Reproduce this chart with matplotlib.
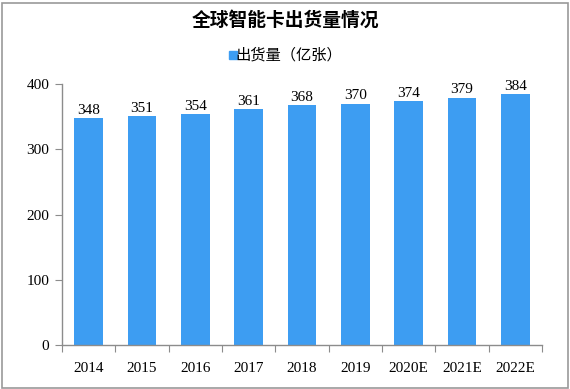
import matplotlib
matplotlib.use('Agg')
from matplotlib import pyplot as plt
from matplotlib.patches import Rectangle
import numpy as np

# Datos del grafico.
anios = ['2014', '2015', '2016', '2017', '2018', '2019', '2020E', '2021E', '2022E']
envios = [348, 351, 354, 361, 368, 370, 374, 379, 384]

titulo = '全球智能卡出货量情况'
leyenda = '出货量（亿张）'

color_barra = '#3d9df2'
color_eje = '#8c8c8c'
fuente_num = 'Liberation Serif'
fuente_cjk = ['Noto Sans CJK SC', 'DejaVu Sans']

fig = plt.figure(figsize=(5.7, 3.89), dpi=100)
ax = fig.add_axes([62 / 570, 1 - 345 / 389, 480 / 570, (345 - 84) / 389])

x = np.arange(len(anios))
ax.bar(x, envios, width=0.54, color=color_barra, zorder=2)

for xi, v in zip(x, envios):
    ax.text(xi, v + 2, str(v), ha='center', va='bottom', fontsize=11,
            family=fuente_num, color='black')

ax.set_xlim(-0.5, len(anios) - 0.5)
ax.set_ylim(0, 400)
ax.set_yticks([0, 100, 200, 300, 400])
ax.set_yticklabels(['0', '100', '200', '300', '400'], family=fuente_num, fontsize=11)

# Marcas del eje x en los limites de cada categoria.
ax.set_xticks(np.arange(-0.5, len(anios), 1.0))
ax.set_xticklabels([])
ax.set_xticks(x, minor=True)
ax.set_xticklabels(anios, minor=True, family=fuente_num, fontsize=11)
ax.tick_params(axis='x', which='major', length=5, color=color_eje, direction='out')
ax.tick_params(axis='x', which='minor', length=0, pad=12)
ax.tick_params(axis='y', length=5, color=color_eje, direction='out', pad=4)

for lado in ['top', 'right']:
    ax.spines[lado].set_visible(False)
for lado in ['left', 'bottom']:
    ax.spines[lado].set_color(color_eje)
    ax.spines[lado].set_linewidth(1.0)

# Titulo y leyenda.
fig.text(0.5, 1 - 20 / 389, titulo, ha='center', va='center', fontsize=13.5,
         fontweight='bold', family=fuente_cjk)
fig.text(0.5 + 4 / 570, 1 - 55 / 389, leyenda, ha='center', va='center',
         fontsize=11, family=fuente_cjk)
fig.patches.append(Rectangle((229 / 570, 1 - 59 / 389), 8 / 570, 8 / 389,
                             transform=fig.transFigure, color=color_barra))

# Borde de la figura.
fig.patches.append(Rectangle((1.5 / 570, 1.5 / 389), 566 / 570, 385 / 389,
                             transform=fig.transFigure, fill=False,
                             edgecolor='#999999', linewidth=1.2))

fig.savefig('out.png', dpi=100)
